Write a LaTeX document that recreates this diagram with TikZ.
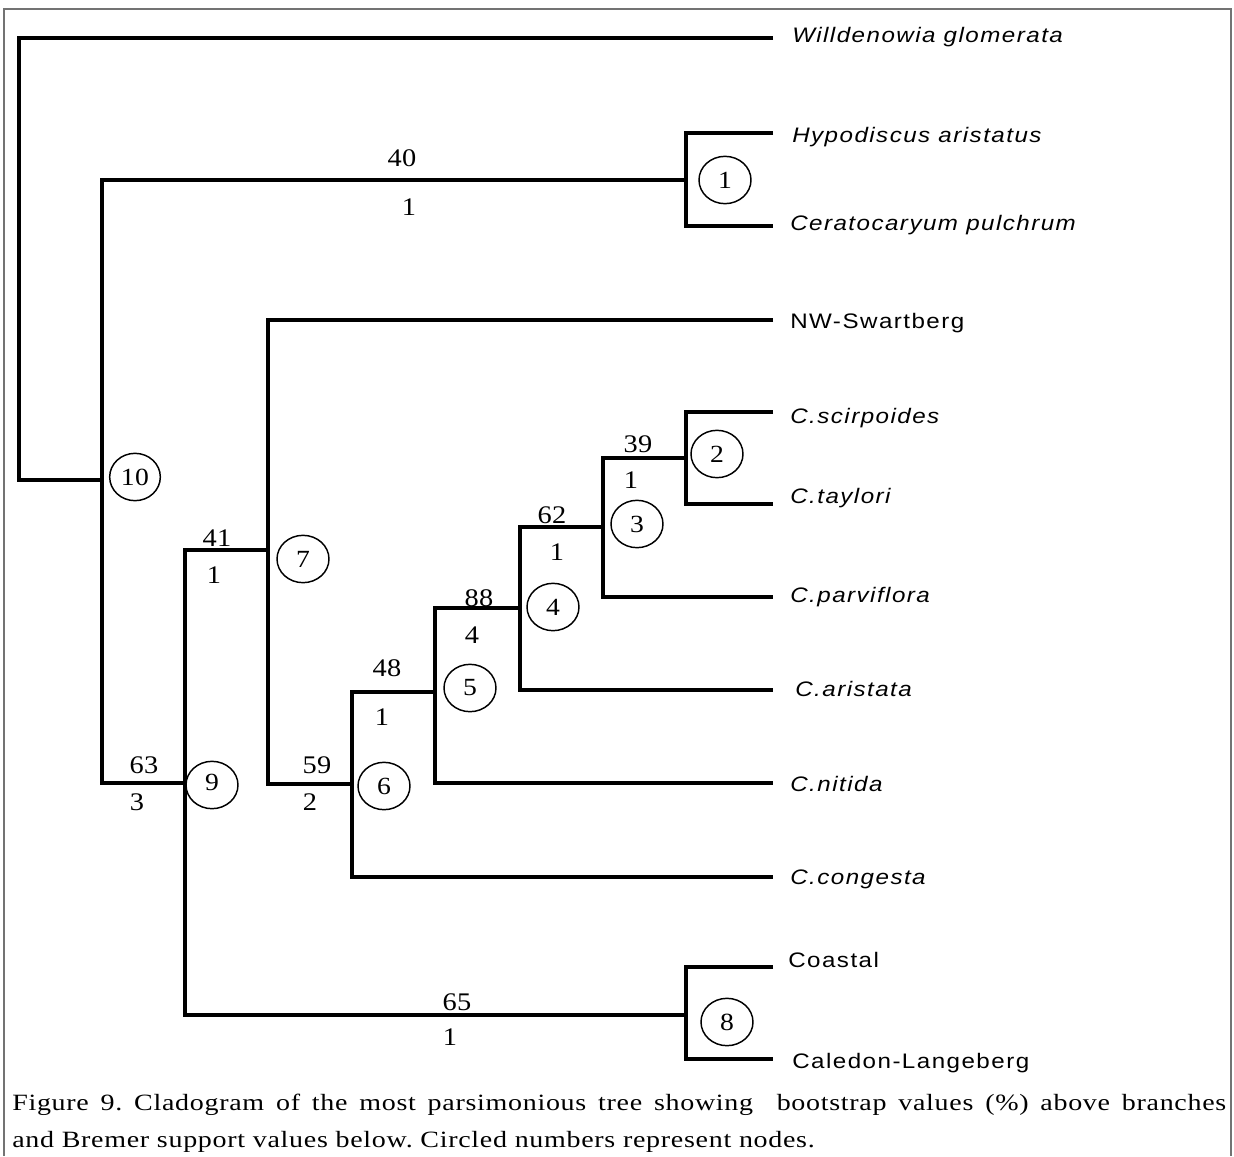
\documentclass[tikz,border=0pt]{standalone}
\usepackage{fontspec}
\setmainfont{Liberation Serif}[FakeStretch=1.2,LetterSpace=3]
\newfontfamily\numfont{Liberation Serif}[FakeStretch=1.12,LetterSpace=2]
\newfontfamily\leaffont{Liberation Sans}[FakeStretch=1.15,LetterSpace=7]
\usetikzlibrary{shapes.geometric}
\begin{document}
\frenchspacing
\begin{tikzpicture}[x=0.75pt,y=-0.75pt,
  tree/.style={line width=3.3pt,line join=miter},
  frame/.style={line width=1.1pt,draw=black!55},
  cnode/.style={ellipse,draw,line width=1.1pt,minimum width=39pt,minimum height=35.5pt,inner sep=0pt,font=\numfont\fontsize{18.5pt}{20pt}\selectfont},
  lab/.style={inner sep=0pt,font=\numfont\fontsize{19pt}{20pt}\selectfont},
  leaf/.style={anchor=base west,inner sep=0pt,font=\leaffont\fontsize{15.75pt}{18pt}\selectfont\itshape},
  leafup/.style={anchor=base west,inner sep=0pt,font=\leaffont\fontsize{15.75pt}{18pt}\selectfont},
  capt/.style={anchor=base west,inner sep=0pt,font=\fontsize{17.5pt}{20pt}\selectfont}]
\useasboundingbox (0,0) rectangle (1234,1156);
% frame
\draw[frame] (4,1156) -- (4,9) -- (1231,9) -- (1231,1156);
% leaf ends
\coordinate (lW) at (773,38);
\coordinate (lH) at (773,133);
\coordinate (lCe) at (773,226);
\coordinate (lNW) at (773,320);
\coordinate (lCs) at (773,412);
\coordinate (lCt) at (773,504);
\coordinate (lCp) at (773,597);
\coordinate (lCa) at (773,690);
\coordinate (lCn) at (773,783);
\coordinate (lCc) at (773,877);
\coordinate (lCo) at (773,967);
\coordinate (lCl) at (773,1059);
% internal nodes
\coordinate (r) at (19,480);
\coordinate (n10) at (102,480);
\coordinate (n1) at (686,180);
\coordinate (n9) at (185,783);
\coordinate (n7) at (268,550);
\coordinate (n6) at (352,784);
\coordinate (n5) at (435,692);
\coordinate (n4) at (520,608);
\coordinate (n3) at (603,527);
\coordinate (n2) at (686,458);
\coordinate (n8) at (686,1015);
% branches
\draw[tree] (lW) -| (r) -- (n10);
\draw[tree] (n1) -| (n10) |- (n9);
\draw[tree] (lH) -| (n1) |- (lCe);
\draw[tree] (n7) -| (n9) |- (n8);
\draw[tree] (lNW) -| (n7) |- (n6);
\draw[tree] (n5) -| (n6) |- (lCc);
\draw[tree] (n4) -| (n5) |- (lCn);
\draw[tree] (n3) -| (n4) |- (lCa);
\draw[tree] (n2) -| (n3) |- (lCp);
\draw[tree] (lCs) -| (n2) |- (lCt);
\draw[tree] (lCo) -| (n8) |- (lCl);
% leaf labels
\node[leaf] (tW) at (792,43) {Willdenowia glomerata};
\node[leaf] (tH) at (792,142) {Hypodiscus aristatus};
\node[leaf] (tCe) at (790,230) {Ceratocaryum pulchrum};
\node[leafup] (tNW) at (790,328) {NW-Swartberg};
\node[leaf] (tCs) at (790,423) {C.scirpoides};
\node[leaf] (tCt) at (790,503) {C.taylori};
\node[leaf] (tCp) at (790,602) {C.parviflora};
\node[leaf] (tCa) at (795,696) {C.aristata};
\node[leaf] (tCn) at (790,791) {C.nitida};
\node[leaf] (tCc) at (790,884) {C.congesta};
\node[leafup] (tCo) at (788,967) {Coastal};
\node[leafup] (tCl) at (792,1068) {Caledon-Langeberg};
% circled node numbers
\node[cnode] (c1) at (725,180) {1};
\node[cnode] (c2) at (717,454) {2};
\node[cnode] (c3) at (637,524) {3};
\node[cnode] (c4) at (553,607) {4};
\node[cnode] (c5) at (470,688) {5};
\node[cnode] (c6) at (384,786) {6};
\node[cnode] (c7) at (303,559) {7};
\node[cnode] (c8) at (727,1022) {8};
\node[cnode] (c9) at (212,785) {\raisebox{4pt}{9}\hspace{5pt}};
\node[cnode,minimum width=38pt] (c10) at (135,477) {10};
% bootstrap (above) and Bremer (below)
\node[lab] (b1) at (402,158) {40};
\node[lab] (r1) at (409,207) {1};
\node[lab] (b2) at (638,444) {39};
\node[lab] (r2) at (631,480) {1};
\node[lab] (b3) at (552,515) {62};
\node[lab] (r3) at (557,552) {1};
\node[lab] (b4) at (479,598) {88};
\node[lab] (r4) at (472,635) {4};
\node[lab] (b5) at (387,668) {48};
\node[lab] (r5) at (382,717) {1};
\node[lab] (b6) at (317,765) {59};
\node[lab] (r6) at (310,802) {2};
\node[lab] (b7) at (217,538) {41};
\node[lab] (r7) at (214,575) {1};
\node[lab] (b9) at (144,765) {63};
\node[lab] (r9) at (137,802) {3};
\node[lab] (b8) at (457,1002) {65};
\node[lab] (r8) at (450,1037) {1};
% caption
\node[capt] (cap1) at (12,1110) {\makebox[910.5pt][s]{Figure 9. Cladogram of the most parsimonious tree showing\ \ bootstrap values (\%) above branches}};
\node[capt] (cap2) at (12,1147) {and Bremer support values below. Circled numbers represent nodes.};
\end{tikzpicture}
\end{document}
